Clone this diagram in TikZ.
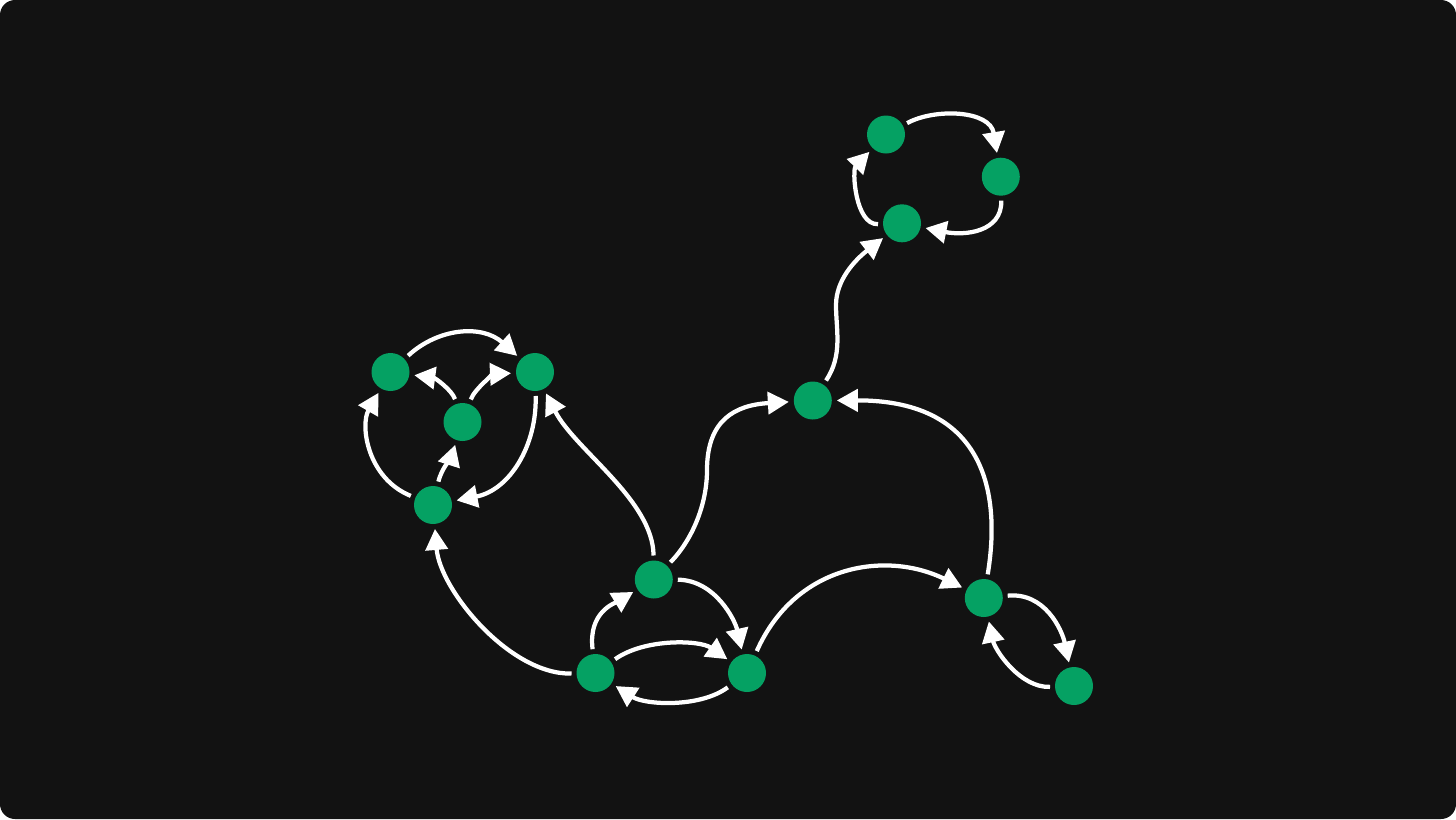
\documentclass[tikz,border=0pt]{standalone}
\usetikzlibrary{arrows.meta}
\definecolor{bgdark}{HTML}{121212}
\definecolor{nodegreen}{HTML}{05A163}
\begin{document}
\begin{tikzpicture}[x={(0.02cm,0)},y={(0,-0.02cm)},
  vtx/.style={circle,fill=nodegreen,minimum size=0.76cm,inner sep=0pt,outer sep=0.1cm},
  link/.style={draw=white,line width=0.085cm,-{Triangle[length=0.42cm,width=0.44cm]}}]
\useasboundingbox (0,0) rectangle (1456,819);
\fill[white] (0,0) rectangle (1456,819);
\fill[bgdark,rounded corners=0.3cm] (0,0) rectangle (1456,819);
% nodes
\node[vtx] (A) at (390.5,372) {};
\node[vtx] (B) at (535,372) {};
\node[vtx] (C) at (462.5,422) {};
\node[vtx] (D) at (433,505) {};
\node[vtx] (E) at (653.8,579.5) {};
\node[vtx] (F) at (595.5,673) {};
\node[vtx] (G) at (747,673) {};
\node[vtx] (H) at (812.8,400.5) {};
\node[vtx] (I) at (886,134.5) {};
\node[vtx] (J) at (1000.8,176.7) {};
\node[vtx] (K) at (902,223.3) {};
\node[vtx] (L) at (983.8,598) {};
\node[vtx] (M) at (1074,686) {};
\coordinate (hk) at (836,305);
\coordinate (eh) at (707,470);
% edges
\draw[link] (A) .. controls (438,328) and (482,324) .. (B);
\draw[link] (C) .. controls (452,390) and (435,378) .. (A);
\draw[link] (C) .. controls (475,388) and (495,374) .. (B);
\draw[link] (D) .. controls (441,470) and (452,455) .. (C);
\draw[link] (D) .. controls (367,478) and (360,425) .. (A);
\draw[link] (B) .. controls (537,445) and (510,490) .. (D);
\draw[link] (E) .. controls (653,500) and (575,450) .. (B);
\draw[link] (F) .. controls (510,675) and (440,590) .. (D);
\draw[link] (F) .. controls (588,612) and (615,603) .. (E);
\draw[link] (E) .. controls (715,580) and (735,620) .. (G);
\draw[link] (F) .. controls (645,638) and (700,640) .. (G);
\draw[link] (G) .. controls (700,708) and (645,705) .. (F);
\draw[link] (E) .. controls (692,540) and (707,505) .. (eh) .. controls (707,420) and (735,405) .. (H);
\draw[link] (G) .. controls (795,565) and (885,550) .. (L);
\draw[link] (L) .. controls (1000,500) and (990,400) .. (H);
\draw[link] (L) .. controls (1045,592) and (1062,630) .. (M);
\draw[link] (M) .. controls (1020,688) and (995,650) .. (L);
\draw[link] (H) .. controls (843,355) and (836,330) .. (hk) .. controls (836,280) and (855,260) .. (K);
\draw[link] (I) .. controls (935,108) and (990,110) .. (J);
\draw[link] (J) .. controls (1002,232) and (965,236) .. (K);
\draw[link] (K) .. controls (855,225) and (852,170) .. (I);
\end{tikzpicture}
\end{document}
